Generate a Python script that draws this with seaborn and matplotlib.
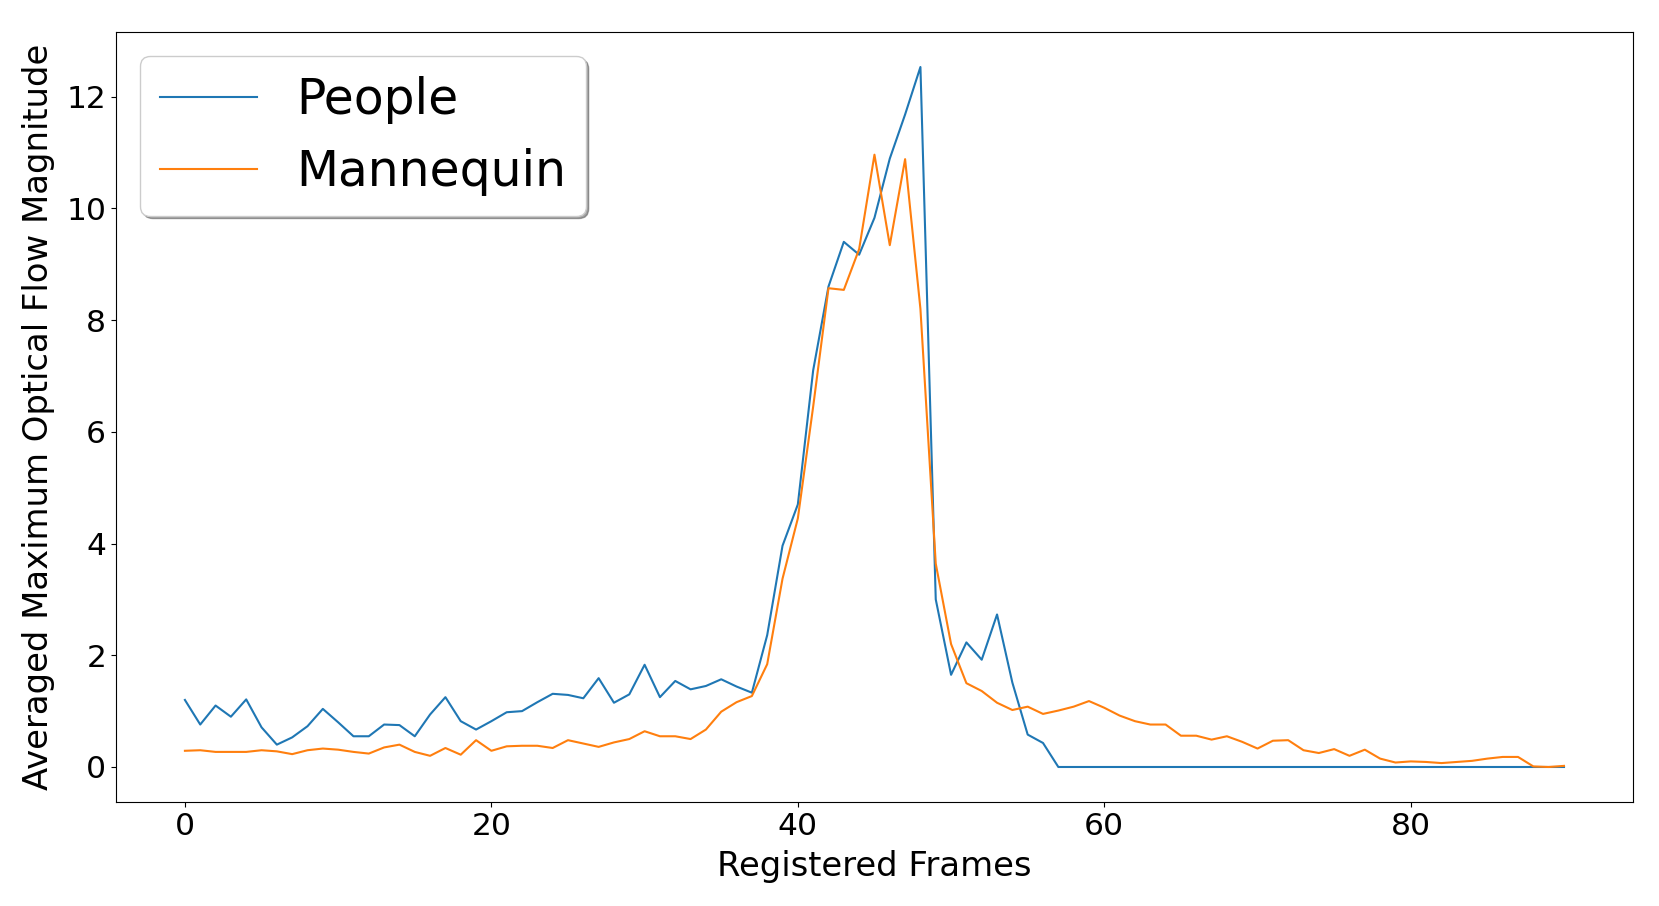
import pandas as pd
import seaborn as sns
from matplotlib import pyplot as plt

frames = list(range(91))

people = [1.20, 0.76, 1.10, 0.90, 1.21, 0.71, 0.40, 0.53, 0.73, 1.04,
          0.80, 0.55, 0.55, 0.76, 0.75, 0.55, 0.94, 1.25, 0.82, 0.67,
          0.82, 0.98, 1.00, 1.16, 1.31, 1.29, 1.23, 1.59, 1.15, 1.30,
          1.83, 1.25, 1.54, 1.39, 1.45, 1.57, 1.44, 1.33, 2.36, 3.96,
          4.70, 7.10, 8.60, 9.40, 9.17, 9.83, 10.89, 11.68, 12.53, 3.00,
          1.65, 2.23, 1.92, 2.73, 1.51, 0.58, 0.43] + [0.0] * 34

mannequin = [0.29, 0.30, 0.27, 0.27, 0.27, 0.30, 0.28, 0.23, 0.30, 0.33,
             0.31, 0.27, 0.24, 0.35, 0.40, 0.27, 0.20, 0.34, 0.22, 0.48,
             0.29, 0.37, 0.38, 0.38, 0.34, 0.48, 0.42, 0.36, 0.44, 0.50,
             0.64, 0.55, 0.55, 0.50, 0.67, 0.99, 1.16, 1.27, 1.84, 3.37,
             4.45, 6.45, 8.57, 8.54, 9.27, 10.96, 9.34, 10.88, 8.20, 3.64,
             2.20, 1.50, 1.36, 1.15, 1.02, 1.08, 0.95, 1.01, 1.08, 1.18,
             1.06, 0.92, 0.82, 0.76, 0.76, 0.56, 0.56, 0.49, 0.55, 0.45,
             0.33, 0.47, 0.48, 0.30, 0.25, 0.32, 0.20, 0.31, 0.15, 0.08,
             0.10, 0.09, 0.07, 0.09, 0.11, 0.15, 0.18, 0.18, 0.01, 0.00,
             0.02]

df = pd.DataFrame({
    'frame': frames * 2,
    'value': people + mannequin,
    'group': ['People'] * len(frames) + ['Mannequin'] * len(frames),
})

fig = plt.figure(figsize=(16.59, 9.06), dpi=100)
ax = fig.add_axes([0.0699, 0.1148, 0.9144, 0.8499])

sns.lineplot(data=df, x='frame', y='value', hue='group',
             palette=['#1f77b4', '#ff7f0e'], linewidth=1.5, ax=ax)

ax.set_xlabel('Registered Frames', fontsize=24.4, labelpad=7)
ax.set_ylabel('Averaged Maximum Optical Flow Magnitude', fontsize=24.4, labelpad=8)
ax.tick_params(labelsize=22.6)
ax.legend(loc='upper left', fontsize=35.1, shadow=True)

fig.savefig('out.png', dpi=100)
